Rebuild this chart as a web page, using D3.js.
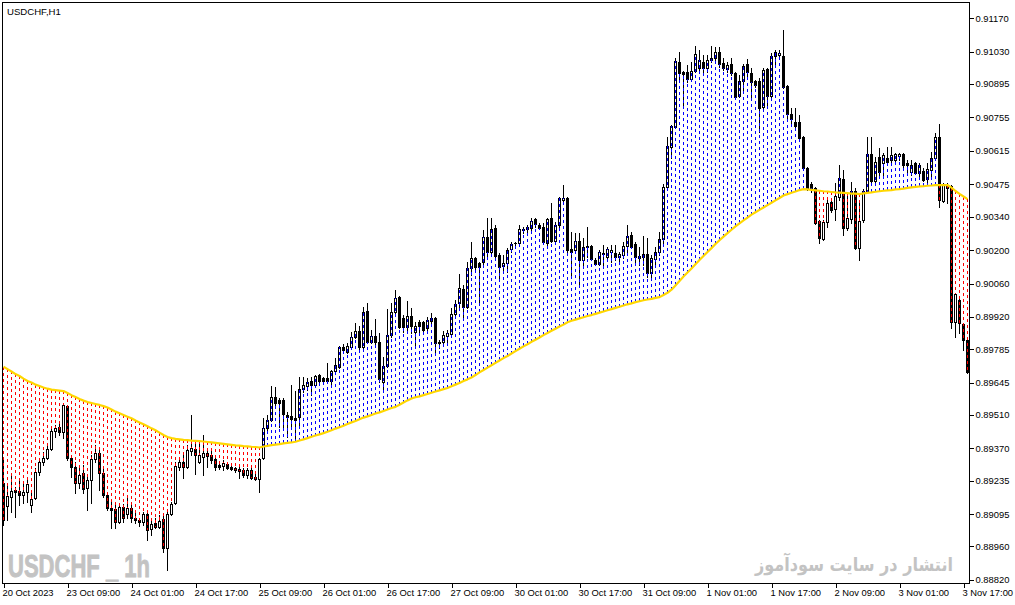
<!DOCTYPE html>
<html><head><meta charset="utf-8">
<script src="https://cdn.jsdelivr.net/npm/d3@7"></script>
<style>
body{margin:0;background:#fff;}
svg{display:block;}
text{font-family:"Liberation Sans",Arial,sans-serif;}
</style>
</head><body>
<svg id="chart" width="1015" height="605"></svg>
<script>
// ---- Data (USDCHF H1, 20 Oct 2023 16:00 .. 3 Nov 2023 18:00) ----
const openP = [
.89225,.89129,.89167,.89196,.89192,.89175,.89187,.89133,.89162,.89271,
.89313,.89330,.89367,.89443,.89459,.89439,.89547,.89330,.89292,.89225,
.89267,.89204,.89238,.89326,.89351,.89267,.89175,.89121,.89116,.89062,
.89125,.89096,.89121,.89079,.89070,.89062,.89096,.89033,.89058,.89041,
.89075,.88953,.89096,.89141,.89292,.89313,.89292,.89359,.89367,.89313,
.89334,.89351,.89342,.89326,.89301,.89296,.89305,.89292,.89288,.89284,
.89280,.89259,.89280,.89250,.89242,.89330,.89455,.89489,.89585,.89572,
.89572,.89510,.89506,.89497,.89501,.89618,.89631,.89652,.89635,.89677,
.89664,.89664,.89652,.89694,.89711,.89794,.89773,.89794,.89836,.89861,
.89794,.89945,.89815,.89840,.89815,.89648,.89715,.89844,.89941,.90003,
.89916,.89878,.89924,.89857,.89899,.89899,.89874,.89903,.89916,.89815,
.89815,.89840,.89849,.89932,.89978,.90037,.89962,.90125,.90167,.90146,
.90150,.90254,.90192,.90292,.90179,.90133,.90146,.90204,.90229,.90229,
.90284,.90288,.90292,.90330,.90305,.90296,.90229,.90334,.90238,.90305,
.90409,.90418,.90204,.90200,.90238,.90158,.90217,.90217,.90158,.90142,
.90187,.90171,.90192,.90187,.90171,.90179,.90217,.90263,.90225,.90167,
.90171,.90183,.90104,.90162,.90192,.90246,.90464,.90631,.90715,.90987,
.90945,.90945,.90915,.90949,.90962,.90987,.90962,.90995,.91003,.91028,
.90982,.90957,.90978,.90941,.90844,.90907,.90978,.90941,.90907,.90907,
.90798,.90957,.90844,.91012,.91016,.91012,.90886,.90769,.90736,.90736,
.90673,.90543,.90476,.90459,.90321,.90246,.90317,.90401,.90372,.90422,
.90497,.90292,.90330,.90447,.90208,.90326,.90443,.90602,.90489,.90589,
.90564,.90585,.90577,.90577,.90593,.90602,.90564,.90526,.90564,.90522,
.90531,.90497,.90535,.90585,.90673,.90405,.90472,.90468,.89899,.89991,
.89890,.89823];
const highP = [
.89330,.89213,.89263,.89208,.89246,.89229,.89238,.89183,.89288,.89330,
.89355,.89384,.89455,.89468,.89480,.89556,.89552,.89342,.89313,.89288,
.89301,.89259,.89342,.89384,.89363,.89288,.89183,.89146,.89141,.89141,
.89137,.89162,.89133,.89100,.89079,.89104,.89104,.89066,.89079,.89091,
.89096,.89104,.89146,.89313,.89330,.89342,.89384,.89510,.89392,.89397,
.89426,.89372,.89363,.89334,.89313,.89321,.89313,.89301,.89292,.89292,
.89288,.89288,.89288,.89267,.89330,.89497,.89510,.89631,.89627,.89581,
.89581,.89522,.89635,.89610,.89669,.89669,.89664,.89669,.89677,.89681,
.89669,.89727,.89698,.89748,.89798,.89807,.89811,.89857,.89895,.89882,
.89962,.89978,.89865,.89911,.89853,.89752,.89953,.89978,.90033,.90008,
.89928,.89987,.89957,.89899,.89907,.89903,.89920,.89936,.89920,.89823,
.89861,.89865,.89957,.89991,.90100,.90054,.90150,.90233,.90171,.90150,
.90284,.90334,.90334,.90305,.90187,.90179,.90208,.90233,.90233,.90305,
.90296,.90305,.90334,.90334,.90313,.90313,.90334,.90397,.90317,.90422,
.90472,.90422,.90275,.90271,.90271,.90250,.90296,.90221,.90167,.90200,
.90221,.90213,.90221,.90221,.90192,.90233,.90305,.90275,.90233,.90213,
.90259,.90250,.90179,.90213,.90275,.90476,.90673,.90723,.91003,.91028,
.90949,.90974,.90987,.91054,.91037,.91016,.91016,.91054,.91049,.91049,
.91003,.90987,.91003,.90945,.90932,.90978,.90999,.90962,.90911,.90920,
.90962,.90962,.91024,.91037,.91037,.91121,.90890,.90794,.90794,.90765,
.90677,.90547,.90485,.90464,.90326,.90326,.90418,.90409,.90480,.90556,
.90535,.90443,.90485,.90459,.90397,.90455,.90673,.90673,.90589,.90627,
.90606,.90631,.90631,.90606,.90606,.90606,.90577,.90577,.90568,.90564,
.90543,.90564,.90610,.90690,.90727,.90480,.90480,.90472,.90020,.89999,
.89895,.89832];
const lowP = [
.89049,.89070,.89104,.89083,.89133,.89141,.89146,.89104,.89158,.89259,
.89301,.89326,.89363,.89418,.89426,.89413,.89321,.89250,.89183,.89204,
.89183,.89111,.89141,.89313,.89196,.89167,.89111,.89037,.89037,.89058,
.89062,.89079,.89062,.89058,.89045,.89049,.88987,.89008,.89037,.89037,
.88936,.88861,.89091,.89137,.89280,.89246,.89288,.89342,.89263,.89309,
.89259,.89292,.89309,.89280,.89284,.89280,.89284,.89280,.89271,.89246,
.89250,.89246,.89242,.89238,.89187,.89326,.89447,.89485,.89543,.89459,
.89459,.89418,.89459,.89405,.89459,.89606,.89614,.89593,.89627,.89648,
.89648,.89644,.89635,.89685,.89706,.89773,.89769,.89794,.89832,.89782,
.89782,.89811,.89811,.89794,.89648,.89614,.89711,.89836,.89936,.89874,
.89857,.89857,.89853,.89794,.89857,.89861,.89857,.89895,.89773,.89790,
.89811,.89815,.89840,.89920,.89957,.89907,.89957,.90095,.90108,.89982,
.90129,.90167,.90187,.90167,.90083,.90116,.90108,.90192,.90221,.90221,
.90271,.90263,.90275,.90296,.90292,.90229,.90221,.90233,.90233,.90292,
.90405,.90192,.90095,.90187,.90045,.90125,.90171,.90158,.90137,.90137,
.90137,.90158,.90150,.90158,.90150,.90167,.90192,.90208,.90150,.90137,
.90137,.90087,.90083,.90137,.90179,.90229,.90459,.90585,.90710,.90903,
.90794,.90903,.90907,.90945,.90941,.90945,.90945,.90987,.90995,.90966,
.90953,.90945,.90932,.90836,.90840,.90869,.90920,.90836,.90882,.90694,
.90786,.90794,.90836,.90974,.91003,.90878,.90752,.90723,.90710,.90660,
.90535,.90451,.90443,.90309,.90229,.90242,.90296,.90359,.90326,.90409,
.90263,.90284,.90313,.90204,.90158,.90317,.90438,.90485,.90480,.90514,
.90514,.90556,.90568,.90568,.90577,.90547,.90522,.90514,.90518,.90505,
.90489,.90480,.90505,.90577,.90380,.90401,.90397,.89874,.89836,.89853,
.89782,.89685];
const closeP = [
.89070,.89171,.89192,.89187,.89175,.89187,.89221,.89158,.89271,.89313,
.89330,.89367,.89443,.89455,.89439,.89552,.89330,.89292,.89225,.89259,
.89200,.89238,.89326,.89351,.89267,.89175,.89121,.89111,.89062,.89125,
.89079,.89121,.89079,.89070,.89062,.89096,.89029,.89054,.89041,.89066,
.88953,.89096,.89137,.89296,.89313,.89292,.89363,.89372,.89342,.89342,
.89351,.89338,.89321,.89292,.89292,.89309,.89288,.89284,.89280,.89275,
.89259,.89280,.89246,.89242,.89326,.89455,.89489,.89585,.89560,.89560,
.89514,.89501,.89493,.89489,.89618,.89635,.89648,.89635,.89673,.89652,
.89652,.89652,.89694,.89719,.89794,.89782,.89798,.89836,.89861,.89794,
.89941,.89815,.89840,.89815,.89660,.89715,.89844,.89941,.89999,.89878,
.89878,.89924,.89882,.89882,.89882,.89865,.89907,.89916,.89811,.89811,
.89844,.89853,.89932,.89974,.90041,.89962,.90125,.90167,.90129,.90129,
.90254,.90192,.90288,.90175,.90129,.90146,.90200,.90225,.90228,.90288,
.90288,.90296,.90321,.90309,.90294,.90233,.90330,.90238,.90305,.90418,
.90418,.90200,.90192,.90238,.90158,.90213,.90213,.90162,.90142,.90192,
.90183,.90204,.90200,.90171,.90183,.90217,.90259,.90213,.90171,.90175,
.90183,.90104,.90167,.90192,.90246,.90464,.90635,.90719,.90991,.90941,
.90936,.90915,.90949,.91020,.90995,.90962,.90995,.91003,.91028,.90978,
.90962,.90974,.90941,.90840,.90907,.90970,.90945,.90903,.90890,.90794,
.90953,.90844,.91012,.91028,.91024,.90882,.90769,.90748,.90719,.90669,
.90543,.90459,.90459,.90313,.90250,.90317,.90397,.90367,.90426,.90501,
.90292,.90334,.90447,.90208,.90321,.90447,.90602,.90489,.90568,.90526,
.90598,.90568,.90598,.90602,.90602,.90556,.90556,.90556,.90522,.90556,
.90493,.90539,.90585,.90673,.90409,.90472,.90459,.89899,.90016,.89895,
.89823,.89690];
const maP = [
.89712,.89702,.89692,.89681,.89673,.89662,.89652,.89646,.89637,.89631,
.89625,.89620,.89616,.89614,.89612,.89610,.89602,.89593,.89585,.89577,
.89570,.89564,.89560,.89556,.89552,.89547,.89541,.89533,.89524,.89517,
.89510,.89503,.89496,.89487,.89479,.89471,.89463,.89454,.89446,.89436,
.89426,.89418,.89413,.89410,.89408,.89406,.89405,.89403,.89402,.89401,
.89399,.89397,.89395,.89393,.89391,.89389,.89387,.89385,.89383,.89382,
.89380,.89379,.89377,.89376,.89374,.89378,.89381,.89384,.89386,.89388,
.89391,.89393,.89395,.89398,.89403,.89408,.89413,.89419,.89424,.89429,
.89434,.89440,.89446,.89453,.89459,.89465,.89472,.89479,.89485,.89492,
.89499,.89504,.89510,.89516,.89521,.89527,.89533,.89539,.89544,.89553,
.89562,.89571,.89579,.89584,.89588,.89593,.89598,.89603,.89608,.89613,
.89618,.89623,.89630,.89637,.89644,.89652,.89659,.89667,.89677,.89688,
.89698,.89708,.89718,.89728,.89738,.89748,.89757,.89767,.89777,.89787,
.89797,.89806,.89816,.89825,.89834,.89844,.89853,.89862,.89871,.89880,
.89888,.89898,.89904,.89909,.89914,.89919,.89924,.89928,.89933,.89938,
.89943,.89948,.89953,.89958,.89963,.89968,.89973,.89977,.89982,.89986,
.89990,.89993,.89996,.90000,.90003,.90012,.90021,.90034,.90052,.90070,
.90089,.90106,.90123,.90141,.90158,.90175,.90192,.90208,.90225,.90241,
.90256,.90271,.90285,.90299,.90312,.90324,.90336,.90348,.90358,.90368,
.90378,.90388,.90398,.90408,.90418,.90428,.90434,.90440,.90445,.90451,
.90455,.90454,.90452,.90450,.90448,.90446,.90445,.90443,.90441,.90440,
.90439,.90438,.90436,.90436,.90434,.90437,.90439,.90441,.90444,.90446,
.90448,.90450,.90451,.90454,.90455,.90457,.90460,.90462,.90464,.90466,
.90467,.90469,.90470,.90472,.90472,.90472,.90472,.90461,.90447,.90435,
.90424,.90413];
const timeTickBars = [0,16,32,48,64,80,96,112,128,144,160,176,192,208,224,240];
const timeTickLabels = ["20 Oct 2023","23 Oct 09:00","24 Oct 01:00","24 Oct 17:00","25 Oct 09:00",
  "26 Oct 01:00","26 Oct 17:00","27 Oct 09:00","30 Oct 01:00","30 Oct 17:00","31 Oct 09:00",
  "1 Nov 01:00","1 Nov 17:00","2 Nov 09:00","3 Nov 01:00","3 Nov 17:00"];
const priceTicks = [0.91170,0.91030,0.90895,0.90755,0.90615,0.90475,0.90340,0.90200,0.90060,
  0.89920,0.89785,0.89645,0.89510,0.89370,0.89235,0.89095,0.88960,0.88820];
const symbolTitle = "USDCHF,H1";
const watermarkLeft = "USDCHF _ 1h";
const watermarkRight = "انتشار در سایت سودآموز";

// ---- Drawing ----
const svg = d3.select("#chart");
svg.append("rect").attr("width",1015).attr("height",605).attr("fill","#fff");

const n = closeP.length;
const x = d3.scaleLinear().domain([0, n-1]).range([3.5, 3.5 + 4*(n-1)]);
const y = d3.scaleLinear().domain([0.88820, 0.91170]).range([579.9, 18.2]);
const idx = d3.range(n);

// watermarks (behind)
svg.append("text").attr("x",8).attr("y",577)
  .attr("font-size",32).attr("font-weight","bold").attr("fill","#c3c3c3")
  .attr("stroke","#c3c3c3").attr("stroke-width",0.9)
  .attr("textLength",142).attr("lengthAdjust","spacingAndGlyphs")
  .style("white-space","pre").text(watermarkLeft);
svg.append("text").attr("x",854).attr("y",571)
  .attr("text-anchor","middle")
  .style("font-family","'DejaVu Sans',sans-serif")
  .attr("font-size",19).attr("font-weight","bold").attr("fill","#c3c3c3")
  .attr("textLength",198).attr("lengthAdjust","spacingAndGlyphs")
  .text(watermarkRight);

const plot = svg.append("g").attr("shape-rendering","crispEdges");

// wicks
plot.selectAll("rect.wick").data(idx).join("rect").attr("class","wick")
  .attr("x", i => x(i) - 0.5).attr("width", 1)
  .attr("y", i => Math.round(y(highP[i])))
  .attr("height", i => Math.max(1, Math.round(y(lowP[i])) - Math.round(y(highP[i])) + 1))
  .attr("fill", "#000");

// bodies
idx.forEach(i => {
  const o = openP[i], c = closeP[i];
  const top = Math.round(y(Math.max(o, c))), bot = Math.round(y(Math.min(o, c)));
  if (c > o && bot - top >= 2) {
    plot.append("rect").attr("x", x(i) - 1).attr("width", 2)
      .attr("y", top + 0.5).attr("height", bot - top)
      .attr("fill", "#fff").attr("stroke", "#000").attr("stroke-width", 1);
  } else {
    plot.append("rect").attr("x", x(i) - 1.5).attr("width", 3)
      .attr("y", top).attr("height", Math.max(1, bot - top + 1))
      .attr("fill", "#000");
  }
});

// dotted histogram between MA and close
plot.selectAll("line.hist").data(idx).join("line").attr("class","hist")
  .attr("x1", i => x(i)).attr("x2", i => x(i))
  .attr("y1", i => Math.round(y(maP[i])))
  .attr("y2", i => Math.round(y(closeP[i])))
  .attr("stroke", i => closeP[i] >= maP[i] ? "#0000ff" : "#ff0000")
  .attr("stroke-width", 1)
  .attr("stroke-dasharray", "3,3");

// moving average
svg.append("path").datum(idx)
  .attr("d", d3.line().x(i => x(i)).y(i => y(maP[i])))
  .attr("fill","none").attr("stroke","#FFD700").attr("stroke-width",2.2)
  .attr("stroke-linejoin","round");

// frame
svg.append("rect").attr("x",2.5).attr("y",2.5).attr("width",967).attr("height",581)
  .attr("fill","none").attr("stroke","#000").attr("stroke-width",1)
  .attr("shape-rendering","crispEdges");

// price axis (right)
const ya = svg.append("g").attr("transform","translate(969.5,0)")
  .call(d3.axisRight(y).tickValues(priceTicks).tickFormat(d3.format(".5f")).tickSize(4).tickPadding(2));
ya.select(".domain").remove();
ya.selectAll("line").attr("stroke","#000").attr("shape-rendering","crispEdges");
ya.selectAll("text").attr("font-size",9.4).attr("fill","#000").style("font-family","'Liberation Sans',Arial,sans-serif");

// time axis (bottom)
const xa = svg.append("g").attr("transform","translate(0,583.5)")
  .call(d3.axisBottom(x).tickValues(timeTickBars).tickFormat((d,k) => timeTickLabels[k]).tickSize(4).tickPadding(2));
xa.select(".domain").remove();
xa.selectAll("line").attr("stroke","#000").attr("shape-rendering","crispEdges");
xa.selectAll("text").attr("font-size",9.4).attr("fill","#000").attr("text-anchor","start").attr("x",-1.5)
  .style("font-family","'Liberation Sans',Arial,sans-serif");

// title
svg.append("text").attr("x",7).attr("y",15).attr("font-size",9.6).attr("fill","#000").text(symbolTitle);
</script>
</body></html>
